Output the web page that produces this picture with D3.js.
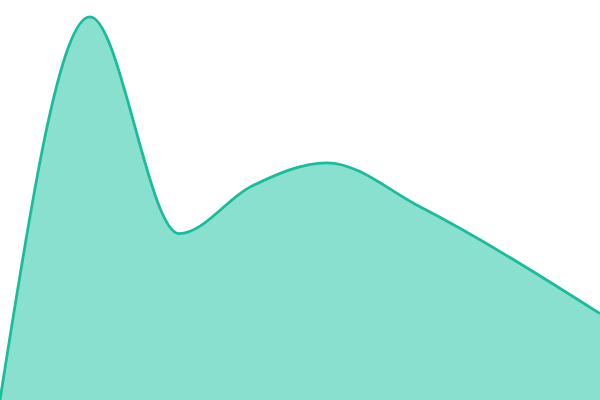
<!DOCTYPE html>
<html><head><meta charset="utf-8">
<script src="https://cdn.jsdelivr.net/npm/d3@7"></script>
<style>html,body{margin:0;padding:0;background:#fff;overflow:hidden}</style>
</head><body>
<svg id="chart" width="600" height="400"></svg>
<script>
const xs = [0, 90, 179, 252, 327, 420, 600];
const values = [0, 95.8, 41.6, 53.5, 59.3, 48.3, 21.6];

const W = 600, H = 400;
const svg = d3.select("#chart");
const x = d3.scaleLinear().domain([0, 600]).range([0, W]);
const y = d3.scaleLinear().domain([0, 100]).range([H, 0]);
const data = xs.map((d, i) => ({x: d, v: values[i]}));

svg.append("path").datum(data)
  .attr("fill", "#8ae0cf")
  .attr("d", d3.area().curve(d3.curveMonotoneX).x(d => x(d.x)).y0(H).y1(d => y(d.v)));
svg.append("path").datum(data)
  .attr("fill", "none").attr("stroke", "#1abc9c").attr("stroke-width", 2.8)
  .attr("d", d3.line().curve(d3.curveMonotoneX).x(d => x(d.x)).y(d => y(d.v)));
</script>
</body></html>
